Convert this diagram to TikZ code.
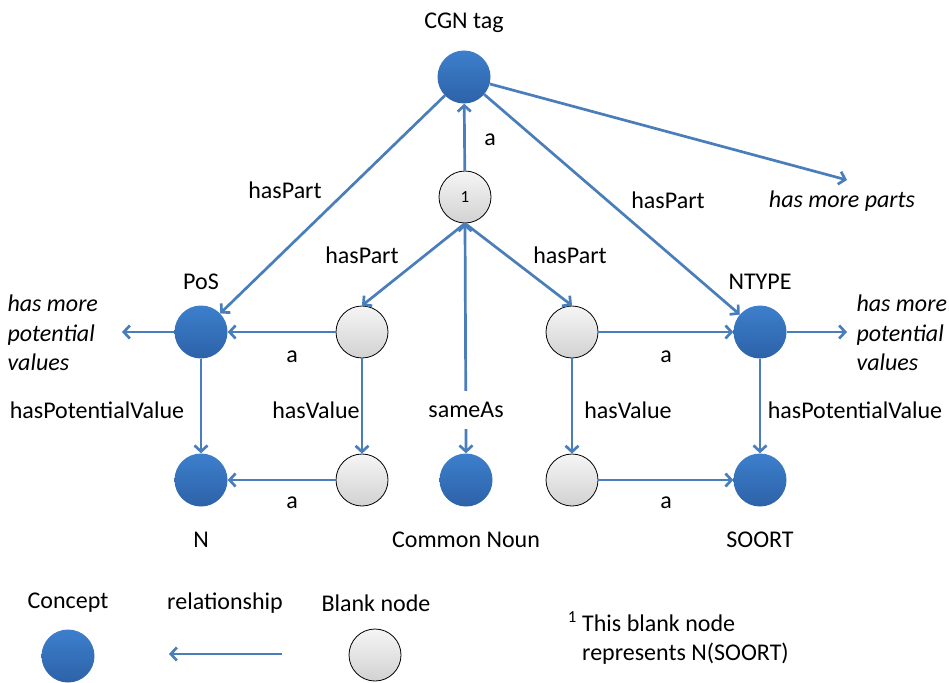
\documentclass[tikz,border=0pt]{standalone}
\usepackage{fontspec}
\setmainfont{Carlito}
\usetikzlibrary{arrows.meta}

\definecolor{relblue}{HTML}{4A7EBB}
\definecolor{conctop}{HTML}{3D7FCC}
\definecolor{concbot}{HTML}{2D62A8}
\definecolor{blanktop}{HTML}{F5F5F5}
\definecolor{blankbot}{HTML}{D2D2D2}

\tikzset{
  concept/.style={circle, minimum size=53pt, inner sep=0pt,
    top color=conctop, bottom color=concbot},
  blank/.style={circle, minimum size=52pt, inner sep=0pt, draw=black,
    line width=0.8pt, top color=blanktop, bottom color=blankbot},
  rel/.style={draw=relblue, line width=2.7pt,
    -{Straight Barb[length=6pt,width=13pt]}},
  more/.style={font=\fontsize{24}{29.5}\selectfont\itshape, align=left},
}

\begin{document}
\begin{tikzpicture}[x=1pt, y=-1pt, font=\fontsize{24}{29.5}\selectfont]
  \useasboundingbox (0,0) rectangle (949,682);
  % concepts and blank nodes
  \node [concept, label={[label distance=14pt]above:CGN tag}] (cgn) at (464,77) {};
  \node [blank] (b1) at (465,197) {\fontsize{17}{19}\selectfont 1};
  \node [concept, label={[label distance=12pt]above:PoS}]     (pos)   at (201,332) {};
  \node [blank]                                                (bl)    at (362,332) {};
  \node [blank]                                                (br)    at (572,332) {};
  \node [concept, label={[label distance=12pt]above:NTYPE}]   (ntype) at (760,332) {};
  \node [concept, label={[label distance=22pt]below:N}]       (n)     at (201,480) {};
  \node [blank]                                                (bbl)   at (362,480) {};
  \node [concept, label={[label distance=22pt]below:Common Noun}] (cn) at (466,480) {};
  \node [blank]                                                (bbr)   at (572,480) {};
  \node [concept, label={[label distance=22pt]below:SOORT}]   (soort) at (760,480) {};

  % free ends
  \coordinate (cgnEnd)   at (847,180);
  \coordinate (posEnd)   at (122,332);
  \coordinate (ntypeEnd) at (847,332);
  \node [more, anchor=west] (morePos)   at (4,333)   {has more\\potential\\values};
  \node [more, anchor=west] (moreNtype) at (853,333) {has more\\potential\\values};
  \node [more] (moreParts) at (842,201) {has more parts};

  % relationships
  \draw [rel] (b1) -- (cgn);
  \draw [rel] (cgn) -- (pos);
  \draw [rel] (cgn) -- (ntype);
  \draw [rel] (cgn) -- (cgnEnd);
  \draw [rel] (b1.south) -- (bl.north);
  \draw [rel] (b1.south) -- (br.north);
  \draw [rel] (bl) -- (pos);
  \draw [rel] (br) -- (ntype);
  \draw [rel] (pos) -- (posEnd);
  \draw [rel] (ntype) -- (ntypeEnd);
  \draw [rel] (pos) -- (n);
  \draw [rel] (ntype) -- (soort);
  \draw [rel] (bl) -- (bbl);
  \draw [rel] (br) -- (bbr);
  \draw [rel] (bbl) -- (n);
  \draw [rel] (bbr) -- (soort);
  \draw [rel, {Straight Barb[length=6pt,width=13pt]}-{Straight Barb[length=6pt,width=13pt]}]
    (cn.north) -- (b1.south);

  % relationship labels
  \node (aTop)   at (490,140) {a};
  \node (hpL)    at (285,190) {hasPart};
  \node (hpR)    at (668,200) {hasPart};
  \node (hpBl)   at (362,255) {hasPart};
  \node (hpBr)   at (570,255) {hasPart};
  \node (aPos)   at (292,357) {a};
  \node (aNtype) at (666,357) {a};
  \node (aN)     at (292,503) {a};
  \node (aSoort) at (666,503) {a};
  \node (hvL)    at (316,410) {hasValue};
  \node (hvR)    at (628,410) {hasValue};
  \node (hpvL)   at (97,410)  {hasPotentialValue};
  \node (hpvR)   at (855,410) {hasPotentialValue};
  \node [fill=white, inner ysep=11pt] (same) at (466,410) {sameAs};

  % legend
  \node (lgConcept) at (68,603)  {Concept};
  \node [concept]   (lgC) at (68,656) {};
  \node (lgRel)     at (225,603) {relationship};
  \coordinate (lgFrom) at (282,654);
  \coordinate (lgTo)   at (169,654);
  \draw [rel] (lgFrom) -- (lgTo);
  \node (lgBlank)   at (376,603) {Blank node};
  \node [blank]     (lgB) at (375,655) {};
  \node [anchor=west, align=left, inner sep=0pt] (note) at (582,638)
    {\llap{\textsuperscript{1} }This blank node\\represents N(SOORT)};
\end{tikzpicture}
\end{document}
